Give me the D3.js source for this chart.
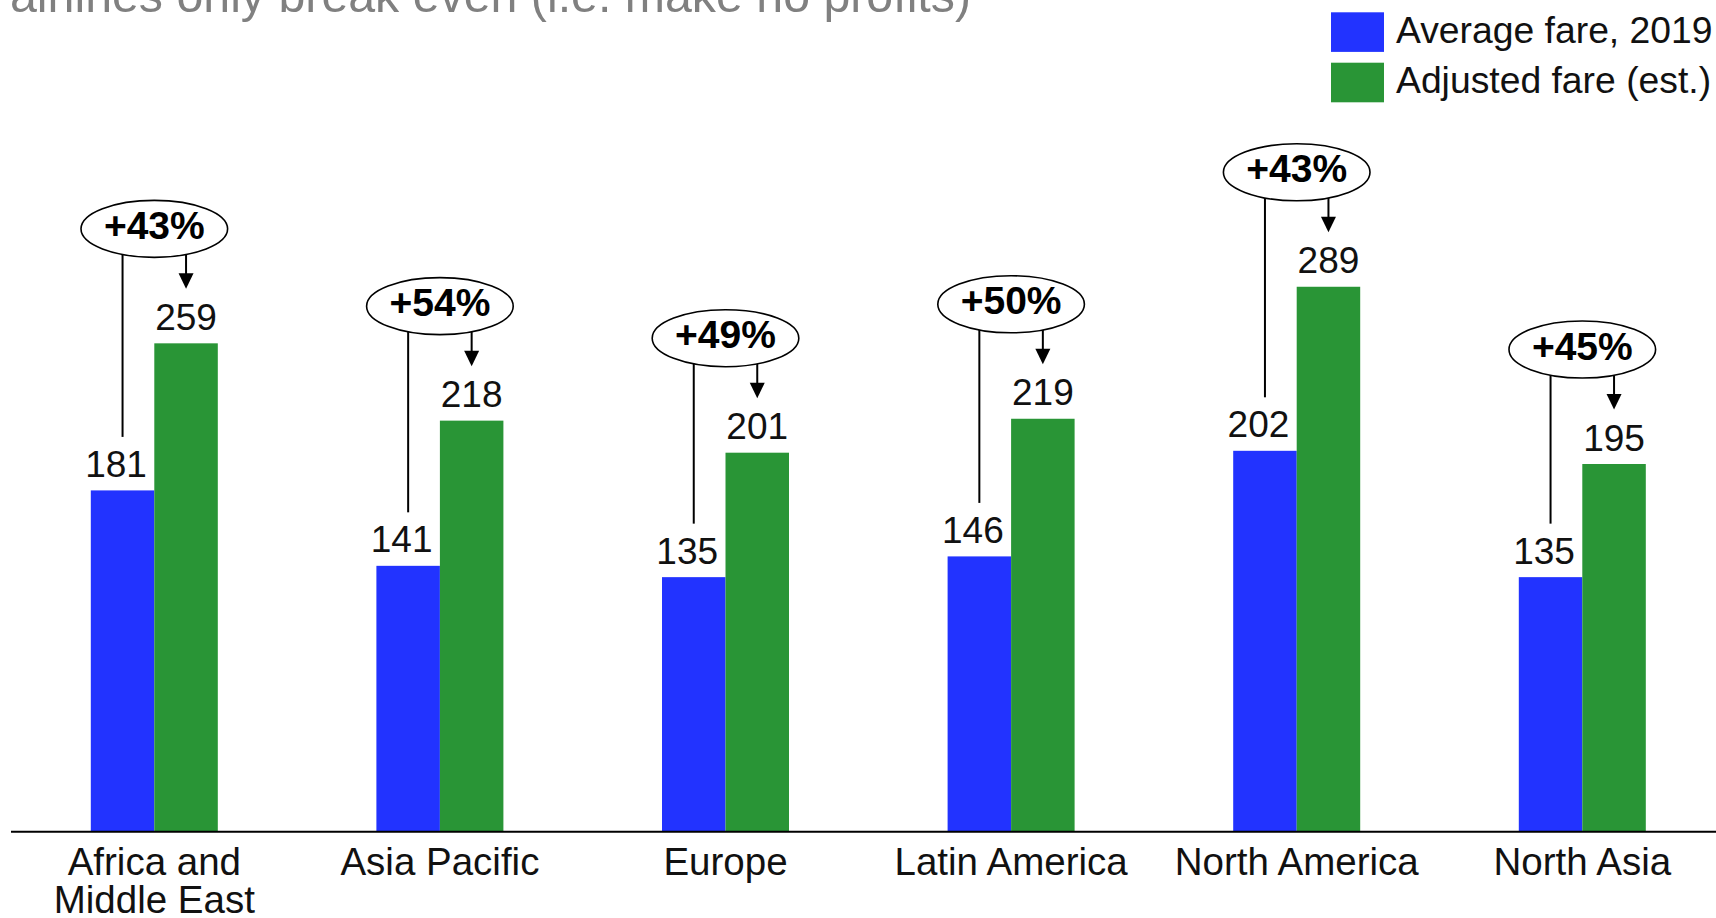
<!DOCTYPE html>
<html>
<head>
<meta charset="utf-8">
<script src="https://cdn.jsdelivr.net/npm/d3@7"></script>
<style>
  html, body { margin: 0; padding: 0; background: #fff; }
  svg { display: block; font-family: "Liberation Sans", Arial, sans-serif; }
</style>
</head>
<body>
<svg id="chart" width="1716" height="918"></svg>
<script>
// ---- data ----
const categories = ["Africa and|Middle East", "Asia Pacific", "Europe", "Latin America", "North America", "North Asia"];
const averageFare2019 = [181, 141, 135, 146, 202, 135];
const adjustedFare = [259, 218, 201, 219, 289, 195];
const changeLabels = ["+43%", "+54%", "+49%", "+50%", "+43%", "+45%"];
const seriesNames = ["Average fare, 2019", "Adjusted fare (est.)"];
const seriesColors = ["#2233ff", "#299536"];
const titleTail = "airlines only break even (i.e. make no profits)";

// ---- layout ----
const W = 1716, H = 918;
const baseY = 831.7;
const svg = d3.select("#chart");

const x0 = d3.scaleBand().domain(categories).range([11.5, 1725.1]).padding(0);
const barW = 63.5;
const x1 = d3.scaleBand().domain(seriesNames)
  .range([x0.bandwidth() / 2 - barW, x0.bandwidth() / 2 + barW]).padding(0);
const y = d3.scaleLinear().domain([0, 300]).range([baseY, baseY - 300 * 1.8856]);

const rows = categories.map((c, i) => ({
  cat: c, vals: [averageFare2019[i], adjustedFare[i]], pct: changeLabels[i]
}));

// title fragment (cropped at top)
svg.append("text")
  .attr("x", 10).attr("y", 12)
  .attr("font-size", 48.3).attr("fill", "#808080")
  .text(titleTail);

// legend
const leg = svg.append("g");
seriesNames.forEach((s, i) => {
  leg.append("rect").attr("x", 1331).attr("y", 12.3 + i * 50.4)
    .attr("width", 53).attr("height", 39.6).attr("fill", seriesColors[i]);
  leg.append("text").attr("x", 1396).attr("y", 42.7 + i * 50)
    .attr("font-size", 37.3).attr("fill", "#111").text(s);
});

// bars
const g = svg.append("g");
const groups = g.selectAll("g.grp").data(rows).join("g")
  .attr("class", "grp")
  .attr("transform", d => `translate(${x0(d.cat)},0)`);

groups.selectAll("rect").data(d => d.vals.map((v, k) => ({ v, k })))
  .join("rect")
  .attr("x", d => x1(seriesNames[d.k]))
  .attr("y", d => y(d.v))
  .attr("width", x1.bandwidth())
  .attr("height", d => baseY - y(d.v))
  .attr("fill", d => seriesColors[d.k]);

// value labels
groups.selectAll("text.val").data(d => d.vals.map((v, k) => ({ v, k })))
  .join("text").attr("class", "val")
  .attr("x", d => x1(seriesNames[d.k]) + x1.bandwidth() / 2 - (d.k === 0 ? 6.5 : 0))
  .attr("y", d => y(d.v) - 13.5)
  .attr("text-anchor", "middle")
  .attr("font-size", 37).attr("fill", "#111")
  .text(d => d.v);

// annotations
const rx = 73.3, ry = 28.5;
groups.each(function (d) {
  const sel = d3.select(this);
  const cx = x0.bandwidth() / 2;
  const cy = y(d.vals[1]) - 114.5;
  const bx = x1(seriesNames[0]) + x1.bandwidth() / 2;
  const gx = x1(seriesNames[1]) + x1.bandwidth() / 2;
  const edge = px => cy + ry * Math.sqrt(1 - Math.pow((px - cx) / rx, 2));

  // line from blue label up to ellipse
  sel.append("line")
    .attr("x1", bx).attr("x2", bx)
    .attr("y1", edge(bx)).attr("y2", y(d.vals[0]) - 53.5)
    .attr("stroke", "#000").attr("stroke-width", 2);

  // arrow to green label
  const tip = y(d.vals[1]) - 54.5;
  sel.append("line")
    .attr("x1", gx).attr("x2", gx)
    .attr("y1", edge(gx)).attr("y2", tip - 14)
    .attr("stroke", "#000").attr("stroke-width", 2);
  sel.append("path")
    .attr("d", `M${gx - 7.5},${tip - 15.5} L${gx + 7.5},${tip - 15.5} L${gx},${tip} Z`)
    .attr("fill", "#000");

  sel.append("ellipse")
    .attr("cx", cx).attr("cy", cy).attr("rx", rx).attr("ry", ry)
    .attr("fill", "#fff").attr("stroke", "#000").attr("stroke-width", 1.6);
  sel.append("text")
    .attr("x", cx).attr("y", cy + 10.2)
    .attr("text-anchor", "middle")
    .attr("font-size", 39).attr("font-weight", "bold").attr("fill", "#000")
    .text(d.pct);
});

// x axis
const axis = svg.append("g").attr("transform", `translate(0,${baseY})`)
  .call(d3.axisBottom(x0).tickSize(0).tickFormat(""));
axis.select(".domain").remove();
svg.append("line").attr("x1", 11).attr("x2", W).attr("y1", baseY).attr("y2", baseY)
  .attr("stroke", "#000").attr("stroke-width", 2);

axis.selectAll(".tick").each(function (c) {
  const t = d3.select(this).select("text")
    .attr("y", 0).attr("dy", null)
    .attr("font-size", 38.5).attr("fill", "#111")
    .attr("font-family", "Liberation Sans, Arial, sans-serif")
    .text(null);
  c.split("|").forEach((line, j) => {
    t.append("tspan").attr("x", 0).attr("y", 43.3 + j * 38.3).text(line);
  });
});
</script>
</body>
</html>
